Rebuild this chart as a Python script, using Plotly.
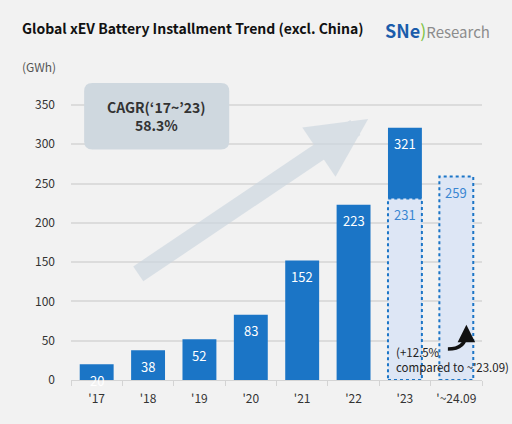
import plotly.graph_objects as go

# --- DATA ---
years = ["'17", "'18", "'19", "'20", "'21", "'22", "'23", "'~24.09"]
installed = [20, 38, 52, 83, 152, 223, 321, None]
# partial-year (through September) values, drawn as the light dotted bars
ytd_years = ["'23", "'~24.09"]
ytd_values = [231, 259]

FONT = "Noto Sans CJK KR"
DARK_BLUE = "#1b75c6"
LIGHT_BLUE = "#dde6f5"
BG = "#f2f2f2"
BAR_W = 0.66

fig = go.Figure()

fig.add_bar(x=years, y=installed, width=BAR_W, marker=dict(color=DARK_BLUE, line=dict(width=0)),
            hoverinfo="x+y", showlegend=False)
fig.add_bar(x=ytd_years, y=ytd_values, width=BAR_W, marker=dict(color=LIGHT_BLUE, line=dict(width=0)),
            hoverinfo="x+y", showlegend=False)

# dotted outline round the partial-year bars
for yr, val in zip(ytd_years, ytd_values):
    i = years.index(yr)
    fig.add_shape(type="rect", xref="x", yref="y", x0=i - BAR_W / 2, x1=i + BAR_W / 2, y0=0, y1=val,
                  line=dict(color=DARK_BLUE, width=2, dash="dot"), fillcolor="rgba(0,0,0,0)")

# value labels
for yr, val in zip(years, installed):
    if val is None:
        continue
    fig.add_annotation(x=yr, y=val, text=str(val), showarrow=False, yshift=-16, yanchor="middle",
                       font=dict(family=FONT, size=13, color="white"))
for yr, val in zip(ytd_years, ytd_values):
    fig.add_annotation(x=yr, y=val, text=str(val), showarrow=False, yshift=-16, yanchor="middle",
                       font=dict(family=FONT, size=13, color="#3a86d2"))

# big growth arrow
fig.add_annotation(xref="x domain", yref="y domain", x=0.723, y=0.879, ax=0.16, ay=0.354,
                   axref="x domain", ayref="y domain", text="", showarrow=True,
                   arrowhead=2, arrowsize=0.66, arrowwidth=18, arrowcolor="rgba(205,215,224,0.68)")

# CAGR box (rounded)
x0, x1, y0, y1 = 0.032, 0.385, 0.776, 1.0
rx, ry = 0.02, 0.028
box = (f"M{x0+rx},{y0} L{x1-rx},{y0} Q{x1},{y0} {x1},{y0+ry} L{x1},{y1-ry} Q{x1},{y1} {x1-rx},{y1} "
       f"L{x0+rx},{y1} Q{x0},{y1} {x0},{y1-ry} L{x0},{y0+ry} Q{x0},{y0} {x0+rx},{y0} Z")
fig.add_shape(type="path", xref="paper", yref="paper", path=box,
              line=dict(width=0), fillcolor="#cfd8df", layer="above")
fig.add_annotation(xref="paper", yref="paper", x=0.208, y=0.888, xanchor="center", yanchor="middle",
                   showarrow=False, text="<b>CAGR(‘17~’23)<br>58.3%</b>",
                   font=dict(family=FONT, size=14, color="#333333"))

# note + small curved black arrow
fig.add_annotation(xref="paper", yref="paper", x=0.785, y=0.068, xanchor="left", yanchor="middle",
                   align="left", showarrow=False, text="(+12.5%<br>compared to ~'23.09)",
                   font=dict(family=FONT, size=11.5, color="#222222"))
fig.add_shape(type="path", xref="paper", yref="paper", path="M0.917,0.104 Q0.961,0.104 0.961,0.158",
              line=dict(color="#111111", width=3.5))
fig.add_annotation(xref="paper", yref="paper", x=0.962, y=0.186, ax=0, ay=10, text="",
                   showarrow=True, arrowhead=2, arrowsize=1, arrowwidth=3.5, arrowcolor="#111111")

# title, logo and unit
fig.add_annotation(xref="paper", yref="paper", x=-0.124, y=1.185, xanchor="left", yanchor="middle",
                   showarrow=False, text="<b>Global xEV Battery Installment Trend (excl. China)</b>",
                   font=dict(family=FONT, size=14, color="#111111"))
fig.add_annotation(xref="paper", yref="paper", x=1.025, y=1.178, xanchor="right", yanchor="middle",
                   showarrow=False,
                   text="<b><span style='color:#1b5cab;font-size:18px'>SNe</span></b>"
                        "<span style='color:#7cc242;font-size:18px'>)</span>"
                        "<span style='color:#8c8c8c'>Research</span>",
                   font=dict(family=FONT, size=15))
fig.add_annotation(xref="paper", yref="paper", x=-0.124, y=1.057, xanchor="left", yanchor="middle",
                   showarrow=False, text="(GWh)", font=dict(family=FONT, size=12, color="#555555"))

fig.update_layout(
    width=512, height=424, barmode="overlay",
    paper_bgcolor=BG, plot_bgcolor=BG,
    margin=dict(l=71, r=30, t=83, b=44),
    font=dict(family=FONT, size=12, color="#333333"),
    xaxis=dict(type="category", categoryorder="array", categoryarray=years,
               showgrid=False, showline=True, linecolor="#d4d4d4", linewidth=1,
               ticks="outside", tickson="boundaries", ticklen=5, tickcolor="#d4d4d4",
               ticklabelstandoff=8,
               tickfont=dict(family=FONT, size=12, color="#333333")),
    yaxis=dict(range=[0, 378], tickvals=[0, 50, 100, 150, 200, 250, 300, 350],
               showgrid=True, gridcolor="#dcdcdc", gridwidth=1.5, zeroline=False,
               ticks="", ticklabelstandoff=15,
               tickfont=dict(family=FONT, size=12, color="#333333")),
)

fig.write_html("out.html", config={"displayModeBar": False},
               post_script="document.body.style.margin='0';")
